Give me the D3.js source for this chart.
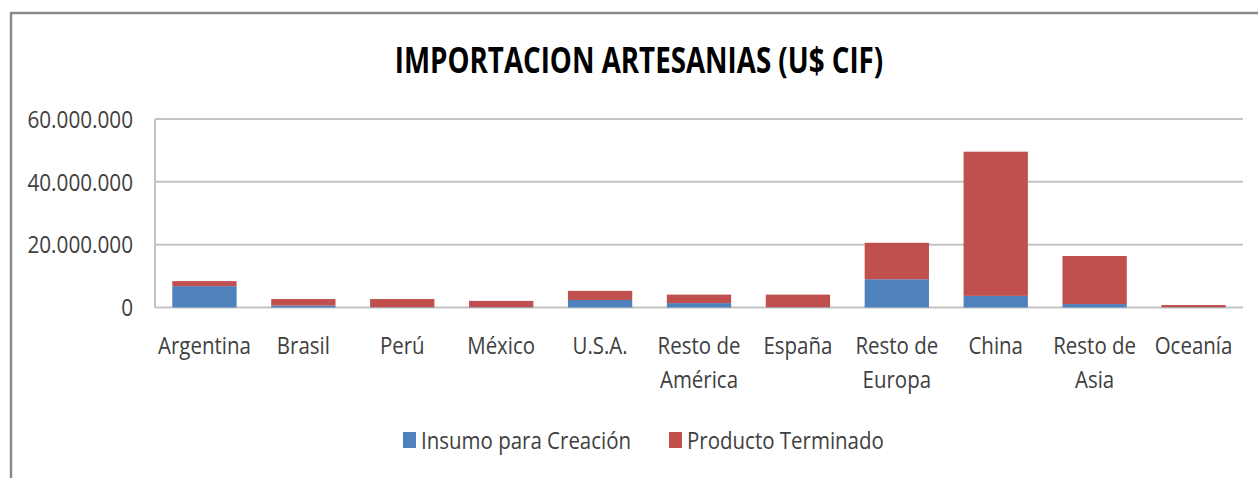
<!DOCTYPE html>
<html>
<head>
  <meta charset="utf-8">
  <title>Importacion artesanias</title>
  <script src="https://cdn.jsdelivr.net/npm/d3@7"></script>
  <style type="text/css">
  html, body {
    margin: 0;
    background-color: #fff;
  }
  text {
    font-family: "Open Sans", "Noto Sans", sans-serif;
    fill: #404040;
  }
  .title {
    font-weight: bold;
    fill: #000;
    font-size: 36px;
  }
  .lbl text, .tick text {
    font-size: 23px;
  }
  .grid line {
    stroke: #c4c4c4;
    stroke-width: 2px;
  }
  .legend text {
    font-size: 23px;
  }
  </style>
</head>
<body>
  <div id="chart"></div>
<script>
var width = 1258,
    height = 478;

var categories = ["Argentina", "Brasil", "Perú", "México", "U.S.A.", "Resto de América",
                  "España", "Resto de Europa", "China", "Resto de Asia", "Oceanía"];
// values in US$ CIF
var insumo = [6800000, 600000, 100000, 100000, 2400000, 1400000,
              100000, 9000000, 3700000, 1100000, 100000];
var producto = [1600000, 2100000, 2600000, 2000000, 2900000, 2700000,
                4000000, 11600000, 45900000, 15300000, 700000];
var seriesNames = ["Insumo para Creación", "Producto Terminado"];
var colors = ["#4f81bd", "#c0504d"];
var yTicks = [0, 20000000, 40000000, 60000000];

var margin = {left: 155, right: 15, top: 119, bottom: 170};

var svg = d3.select("#chart").append("svg")
            .attr("width", width)
            .attr("height", height);

// squeeze text horizontally (the source font is a narrow one)
var squeeze = function(sel, k) {
  sel.each(function() {
    var w = this.getComputedTextLength();
    d3.select(this)
      .attr("textLength", w * k)
      .attr("lengthAdjust", "spacingAndGlyphs");
  });
};

// outer frame
svg.append("path")
   .attr("d", "M11," + height + "V13H" + width)
   .attr("fill", "none")
   .attr("stroke", "#8a8a8a")
   .attr("stroke-width", 2.5);

var title = svg.append("text")
   .attr("class", "title")
   .attr("x", 639)
   .attr("y", 73)
   .attr("text-anchor", "middle")
   .text("IMPORTACION ARTESANIAS (U$ CIF)");
squeeze(title, 0.77);

var x = d3.scaleBand()
          .domain(categories)
          .range([margin.left, 1243])
          .paddingInner(0.35)
          .paddingOuter(0.175);

var y = d3.scaleLinear()
          .domain([0, 60000000])
          .range([307.5, margin.top]);

var fmt = function(v) {
  return d3.format(",")(v).replace(/,/g, ".");
};

// gridlines
svg.append("g")
   .attr("class", "grid")
   .selectAll("line")
   .data(yTicks)
   .enter().append("line")
   .attr("x1", margin.left)
   .attr("x2", 1243)
   .attr("y1", function(d) { return y(d); })
   .attr("y2", function(d) { return y(d); });

// left axis line
svg.append("line")
   .attr("x1", margin.left).attr("x2", margin.left)
   .attr("y1", y(60000000)).attr("y2", y(0))
   .attr("stroke", "#c4c4c4")
   .attr("stroke-width", 2);

var yAxis = svg.append("g")
   .attr("transform", "translate(" + margin.left + ",0)")
   .call(d3.axisLeft(y).tickValues(yTicks).tickFormat(fmt).tickSize(0).tickPadding(22));
yAxis.select(".domain").remove();
yAxis.selectAll("text").attr("fill", "#404040").attr("dy", "0.36em");
squeeze(yAxis.selectAll("text"), 0.9);

// stacked bars
var rows = categories.map(function(c, i) {
  return {cat: c, insumo: insumo[i], producto: producto[i]};
});
var stack = d3.stack().keys(["insumo", "producto"]);
var layers = stack(rows);

svg.append("g").selectAll("g")
   .data(layers)
   .enter().append("g")
   .attr("fill", function(d, i) { return colors[i]; })
   .selectAll("rect")
   .data(function(d) { return d; })
   .enter().append("rect")
   .attr("x", function(d) { return x(d.data.cat); })
   .attr("width", x.bandwidth())
   .attr("y", function(d) { return y(d[1]); })
   .attr("height", function(d) { return y(d[0]) - y(d[1]); });

// category labels, wrapped on two lines
var lines = [];
categories.forEach(function(d) {
  var parts = d.indexOf("Resto de ") === 0 ? ["Resto de", d.substr(9)] : [d];
  parts.forEach(function(p, k) { lines.push({cat: d, text: p, row: k}); });
});
var labels = svg.append("g").attr("class", "lbl")
   .selectAll("text")
   .data(lines)
   .enter().append("text")
   .attr("text-anchor", "middle")
   .attr("x", function(d) { return x(d.cat) + x.bandwidth() / 2; })
   .attr("y", function(d) { return 354 + d.row * 34; })
   .text(function(d) { return d.text; });
squeeze(labels, 0.89);

// legend
var legendX = [403, 669];
var legend = svg.append("g").attr("class", "legend")
   .selectAll("g")
   .data(seriesNames)
   .enter().append("g")
   .attr("transform", function(d, i) { return "translate(" + legendX[i] + ",432)"; });
legend.append("rect")
      .attr("width", 13)
      .attr("height", 16)
      .attr("fill", function(d, i) { return colors[i]; });
var legendText = legend.append("text")
      .attr("x", 18)
      .attr("y", 17)
      .text(function(d) { return d; });
squeeze(legendText, 0.89);
</script>
</body>
</html>
